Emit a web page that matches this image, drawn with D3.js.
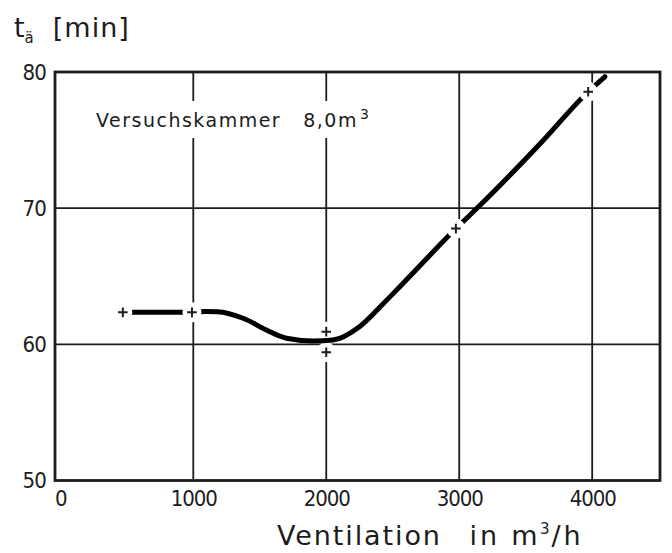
<!DOCTYPE html>
<html><head><meta charset="utf-8">
<script src="https://cdn.jsdelivr.net/npm/d3@7"></script>
<style>html,body{margin:0;padding:0;background:#fff;}</style>
</head><body>
<svg id="c" width="672" height="553"></svg>
<script>
// ---- data ----
const xTicks = [0, 1000, 2000, 3000, 4000];
const yTicks = [50, 60, 70, 80];
const xGrid = [1000, 2000, 3000, 4000];
const yGrid = [60, 70];
// fitted curve (ventilation m3/h -> t_ä min)
const curveX = [470, 990, 1090, 1180, 1380, 1550, 1700, 1900, 2050, 2250, 2430, 2555, 2975, 3145, 3610, 3970, 4095];
const curveY = [62.35, 62.35, 62.42, 62.40, 61.9, 61.05, 60.45, 60.25, 60.32, 61.3, 63.0, 64.25, 68.5, 70.1, 74.75, 78.55, 79.65];
// measured points (+)
const markerX = [470, 990, 2000, 2000, 2975, 3970];
const markerY = [62.35, 62.35, 60.93, 59.42, 68.5, 78.55];
// texts
const yTitleMain = "t", yTitleSub = "ä", yTitleUnit = "[min]";
const xTitleWords = ["Ventilation", "in", "m", "3", "/h"];
const noteText = "Versuchskammer", noteValue = "8,0m", noteSup = "3";

// ---- drawing ----
const svg = d3.select("#c");
const ink = "#1c1c1c";
const x = d3.scaleLinear().domain([-40, 4510]).range([55, 660]);
const y = d3.scaleLinear().domain([50, 80]).range([480.5, 72]);
const [x0, x1] = x.range();
const [y0, y1] = y.range();
const tickFont = "'DejaVu Sans Condensed',sans-serif";
const textFont = "'DejaVu Sans',sans-serif";

svg.append("rect").attr("width", 672).attr("height", 553).attr("fill", "#fff");

// grid
svg.append("g").selectAll("line").data(xGrid).join("line")
  .attr("x1", d => x(d)).attr("x2", d => x(d)).attr("y1", y1).attr("y2", y0)
  .attr("stroke", ink).attr("stroke-width", 1.8);
svg.append("g").selectAll("line").data(yGrid).join("line")
  .attr("x1", x0).attr("x2", x1).attr("y1", d => y(d)).attr("y2", d => y(d))
  .attr("stroke", ink).attr("stroke-width", 1.6);

// annotation with white knock-out behind it
const note = svg.append("g");
const noteT = note.append("text").attr("x", 96).attr("y", 127)
  .attr("font-family", textFont).attr("font-size", 19).attr("fill", ink)
  .attr("letter-spacing", 1.5);
noteT.append("tspan").text(noteText);
noteT.append("tspan").attr("dx", 22).text(noteValue);
noteT.append("tspan").attr("dy", -8).attr("dx", 2).attr("font-size", 14).text(noteSup);
const bb = noteT.node().getBBox();
note.insert("rect", "text").attr("x", bb.x - 6).attr("y", bb.y - 5)
  .attr("width", bb.width + 12).attr("height", bb.height + 12).attr("fill", "#fff");

const pts = markerX.map((v, i) => [v, markerY[i]]);
const onCurve = pts.filter(p => curveX.some((cx, i) => cx === p[0] && curveY[i] === p[1]));

// halos erasing grid around every point
svg.append("g").selectAll("circle").data(pts).join("circle")
  .attr("cx", d => x(d[0])).attr("cy", d => y(d[1])).attr("r", 10).attr("fill", "#fff");

// curve
const line = d3.line().x(d => x(d[0])).y(d => y(d[1])).curve(d3.curveMonotoneX);
svg.append("path").datum(curveX.map((v, i) => [v, curveY[i]]))
  .attr("d", line).attr("fill", "none").attr("stroke", "#000")
  .attr("stroke-width", 5).attr("stroke-linecap", "round");

// halos breaking the curve at points lying on it
svg.append("g").selectAll("circle").data(onCurve).join("circle")
  .attr("cx", d => x(d[0])).attr("cy", d => y(d[1])).attr("r", 9.5).attr("fill", "#fff");

// + markers
svg.append("g").selectAll("path").data(pts).join("path")
  .attr("d", d => { const cx = x(d[0]), cy = y(d[1]), a = 4.8;
    return `M${cx - a},${cy}H${cx + a}M${cx},${cy - a}V${cy + a}`; })
  .attr("stroke", ink).attr("stroke-width", 2).attr("fill", "none");

// frame
svg.append("rect").attr("x", x0).attr("y", y1).attr("width", x1 - x0).attr("height", y0 - y1)
  .attr("fill", "none").attr("stroke", ink).attr("stroke-width", 2.8);

// axes labels
const ax = svg.append("g").attr("transform", `translate(0,${y0})`)
  .call(d3.axisBottom(x).tickValues(xTicks).tickSize(0).tickPadding(10).tickFormat(d3.format("d")));
ax.select(".domain").remove();
ax.selectAll("text").attr("font-family", tickFont).attr("font-size", 22)
  .attr("letter-spacing", -1.1).attr("fill", ink);
const ay = svg.append("g").attr("transform", `translate(${x0},0)`)
  .call(d3.axisLeft(y).tickValues(yTicks).tickSize(0).tickPadding(9).tickFormat(d3.format("d")));
ay.select(".domain").remove();
ay.selectAll("text").attr("font-family", tickFont).attr("font-size", 22)
  .attr("letter-spacing", -0.8).attr("fill", ink);

// y title
const yt = svg.append("text").attr("x", 14).attr("y", 37)
  .attr("font-family", textFont).attr("font-size", 27).attr("fill", ink);
yt.append("tspan").text(yTitleMain);
yt.append("tspan").attr("dy", 6).attr("font-size", 15).text(yTitleSub);
yt.append("tspan").attr("dy", -6).attr("dx", 19).attr("letter-spacing", 1).text(yTitleUnit);

// x title
const xt = svg.append("text").attr("x", 277).attr("y", 545)
  .attr("font-family", textFont).attr("font-size", 27).attr("fill", ink)
  .attr("letter-spacing", 1.9);
xt.append("tspan").text(xTitleWords[0]);
xt.append("tspan").attr("dx", 16).attr("letter-spacing", 3).text(" " + xTitleWords[1]);
xt.append("tspan").attr("letter-spacing", 2.5).text(" " + xTitleWords[2]);
xt.append("tspan").attr("dy", -11).attr("font-size", 15).text(xTitleWords[3]);
xt.append("tspan").attr("dy", 11).attr("letter-spacing", 3).text(xTitleWords[4]);
</script>
</body></html>
